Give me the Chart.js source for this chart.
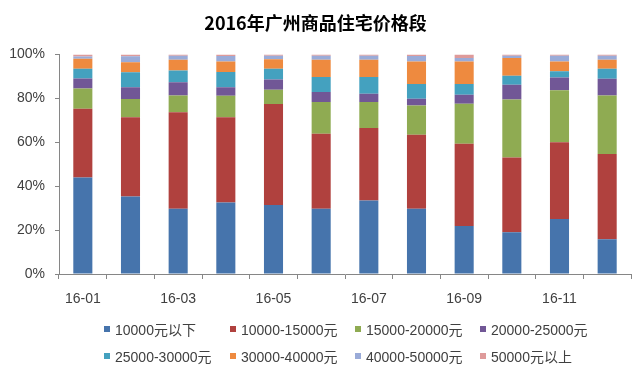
<!DOCTYPE html>
<html><head><meta charset="utf-8">
<script src="https://cdn.jsdelivr.net/npm/chart.js@4.4.0/dist/chart.umd.min.js"></script>
<style>
html,body{margin:0;padding:0;background:#fff;}
#wrap{position:relative;width:640px;height:381px;overflow:hidden;}
#legend{position:absolute;left:0;top:0;width:640px;height:381px;pointer-events:none;font-family:"Liberation Sans","Noto Sans CJK SC",sans-serif;font-size:14px;color:#404040;}
.item{position:absolute;white-space:nowrap;line-height:16px;}
.sw{display:inline-block;width:6px;height:6px;margin-right:5px;vertical-align:3px;}
</style></head><body>
<div id="wrap"><canvas id="c" width="640" height="381"></canvas><div id="legend"></div></div>
<script>
const titleText = '2016年广州商品住宅价格段';
const categories = ['16-01','16-02','16-03','16-04','16-05','16-06','16-07','16-08','16-09','16-10','16-11','16-12'];
const seriesNames = ['10000元以下','10000-15000元','15000-20000元','20000-25000元','25000-30000元','30000-40000元','40000-50000元','50000元以上'];
const seriesColors = ['#4674AC','#B0413E','#8FAB52','#715796','#44A1BF','#EE8A3F','#9AABD8','#DE9A9A'];
const below10k   = [44.0, 35.3, 29.7, 32.6, 31.5, 29.7, 33.5, 29.7, 21.9, 19.0, 25.1, 15.8];
const r10to15k   = [31.3, 36.1, 44.0, 38.8, 46.0, 34.2, 33.0, 33.8, 37.5, 34.1, 34.9, 38.9];
const r15to20k   = [ 9.2,  8.4,  7.7,  9.9,  6.5, 14.5, 11.9, 13.3, 18.2, 26.4, 23.7, 26.7];
const r20to25k   = [ 4.6,  5.3,  6.0,  3.8,  4.6,  4.6,  3.7,  3.1,  4.1,  6.8,  5.9,  7.6];
const r25to30k   = [ 4.4,  6.8,  5.3,  7.0,  4.9,  6.8,  7.7,  6.7,  4.9,  4.1,  2.8,  4.5];
const r30to40k   = [ 4.6,  4.6,  5.0,  4.8,  4.4,  7.9,  7.9, 10.3, 10.3,  8.1,  4.5,  4.2];
const r40to50k   = [ 1.0,  2.8,  1.8,  2.5,  1.6,  1.8,  1.8,  2.5,  1.5,  1.0,  2.6,  1.8];
const above50k   = [ 0.9,  0.7,  0.5,  0.6,  0.5,  0.5,  0.5,  0.6,  1.6,  0.5,  0.5,  0.5];
const yTicks = [0, 20, 40, 60, 80, 100];

const seriesValues = [below10k, r10to15k, r15to20k, r20to25k, r25to30k, r30to40k, r40to50k, above50k];
const axisColor = '#868686';
const tickFont = {family: '"Liberation Sans","Noto Sans CJK SC",sans-serif', size: 14};

const datasets = seriesNames.map((n, i) => ({
  label: n,
  data: seriesValues[i],
  backgroundColor: seriesColors[i],
  borderWidth: 0,
  categoryPercentage: 0.8,
  barPercentage: 0.5
}));

new Chart(document.getElementById('c'), {
  type: 'bar',
  data: {labels: categories, datasets},
  options: {
    responsive: false,
    devicePixelRatio: 1,
    animation: false,
    layout: {padding: {left: 0, right: 9, top: 0, bottom: 0}},
    plugins: {
      legend: {display: false},
      tooltip: {enabled: false},
      title: {
        display: true, text: titleText, color: '#000',
        font: {family: '"Noto Sans CJK SC",sans-serif', size: 18, weight: 'bold'},
        padding: {top: 12, bottom: 21}
      }
    },
    scales: {
      x: {
        stacked: true,
        grid: {display: true, drawOnChartArea: false, drawTicks: true, tickLength: 5, color: axisColor, offset: true},
        border: {color: axisColor},
        ticks: {autoSkip: false, maxRotation: 0, padding: 12, font: tickFont, color: '#404040',
          callback: (v, i) => (i % 2 === 0 ? categories[i] : '')},
        afterFit: s => { s.height = 107; }
      },
      y: {
        stacked: true, min: 0, max: 100,
        afterBuildTicks: s => { s.ticks = yTicks.map(v => ({value: v})); },
        grid: {drawOnChartArea: false, drawTicks: true, tickLength: 4, color: axisColor},
        border: {color: axisColor},
        ticks: {padding: 10, font: tickFont, color: '#404040', callback: v => v + '%'},
        afterFit: s => { s.width = 59; }
      }
    }
  }
});

// legend (2 rows x 4 columns)
const legendEl = document.getElementById('legend');
const colX = [104, 230, 355, 480];
const rowY = [322, 349];
seriesNames.forEach((n, i) => {
  const d = document.createElement('div');
  d.className = 'item';
  d.style.left = colX[i % 4] + 'px';
  d.style.top = rowY[Math.floor(i / 4)] + 'px';
  d.innerHTML = '<span class="sw" style="background:' + seriesColors[i] + '"></span>' + n;
  legendEl.appendChild(d);
});
</script>
</body></html>
